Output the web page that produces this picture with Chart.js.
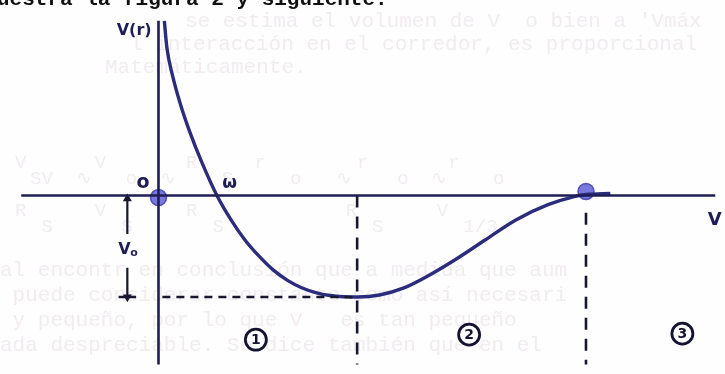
<!DOCTYPE html>
<html>
<head>
<meta charset="utf-8">
<script src="https://cdn.jsdelivr.net/npm/chart.js@4/dist/chart.umd.min.js"></script>
<style>
  html, body { margin: 0; padding: 0; background: #fefefe; }
  #wrap { width: 725px; height: 374px; position: relative; }
</style>
</head>
<body>
<div id="wrap"><canvas id="potChart"></canvas></div>
<script>
// potential curve V(r), r in arbitrary units, V in units of V0
const curveR = [0.06, 0.086, 0.145, 0.226, 0.325, 0.441, 0.60, 0.745, 0.89, 1.035, 1.18, 1.325, 1.47, 1.615, 1.76, 1.905, 2.05, 2.27, 2.52, 2.77, 3.05, 3.35, 3.67, 4.00, 4.27, 4.39, 4.64];
const curveV = [1.72, 1.458, 1.178, 0.897, 0.617, 0.336, 0.00, -0.24, -0.44, -0.60, -0.735, -0.835, -0.908, -0.956, -0.985, -0.997, -1.00, -0.98, -0.91, -0.79, -0.63, -0.44, -0.24, -0.09, -0.01, 0.01, 0.02];

const V0 = -1.0;       // depth of the well
const rMin = 2.04;     // position of the minimum
const rEdge = 4.39;    // where V(r) rejoins zero
const rArrow = -0.32;  // V0 arrow

const regionLabels = ['1', '2', '3'];
const regionR = [1.0, 3.19, 5.38];
const regionV = [-1.42, -1.37, -1.36];

const headerText = 'uestra la figura 2 y siguiente.';
const faintTop = [
  'se estima el volumen de V  o bien a \'Vmáx',
  'l interacción en el corredor, es proporcional',
  'Matemáticamente.'
];
const faintBottom = [
  'al encontr en conclusión que a medida que aum',
  ' puede considerar constante como así necesari',
  ' y pequeño, por lo que V   es tan pequeño',
  'ada despreciable. Se dice también que en el'
];

const ink = '#1e1e55';
const curveInk = '#2c2c7c';
const dashInk = '#17172f';

const pts = (xs, ys) => xs.map((x, i) => ({ x: x, y: ys[i] }));

// page text, under the drawing
const pagePlugin = {
  id: 'page',
  beforeDatasetsDraw(chart) {
    const ctx = chart.ctx;
    ctx.save();
    ctx.fillStyle = 'rgba(210,190,205,0.28)';
    ctx.font = '21px "Liberation Mono"';
    ctx.textBaseline = 'alphabetic';
    ctx.fillText(faintTop[0], 185, 27);
    ctx.fillText(faintTop[1], 130, 50);
    ctx.fillText(faintTop[2], 105, 73);
    faintBottom.forEach((t, i) => ctx.fillText(t, 0, 276 + i * 25));
    // faint formula row
    ctx.font = '19px "Liberation Mono"';
    ctx.fillText('V      V       R     r        r       r', 15, 168);
    ctx.fillText('SV  ∿   o  ∿    S     o   ∿    o  ∿    o', 30, 184);
    ctx.fillText('R      V       R             R       V', 15, 216);
    ctx.fillText(' S      S       S             S       1/3', 30, 232);
    ctx.fillStyle = '#111';
    ctx.font = 'bold 21px "Liberation Mono"';
    ctx.fillText(headerText, -3, 5);
    ctx.restore();
  }
};

// labels drawn at data positions
const labelPlugin = {
  id: 'labels',
  afterDatasetsDraw(chart) {
    const ctx = chart.ctx;
    const xs = chart.scales.x, ys = chart.scales.y;
    const px = r => xs.getPixelForValue(r);
    const py = v => ys.getPixelForValue(v);
    ctx.save();
    ctx.fillStyle = ink;
    ctx.textBaseline = 'middle';
    ctx.textAlign = 'center';
    ctx.font = 'bold 16px "DejaVu Sans"';
    ctx.fillText('V(r)', px(-0.25), py(1.62));
    ctx.font = 'bold 19px "DejaVu Sans"';
    ctx.fillText('o', px(-0.16), py(0.12));
    ctx.font = 'bold 17px "DejaVu Sans"';
    ctx.fillText('ω', px(0.73), py(0.12));
    ctx.font = 'bold 16px "DejaVu Sans"';
    ctx.fillText('V', px(-0.35), py(-0.53));
    ctx.font = 'bold 11px "DejaVu Sans"';
    ctx.fillText('o', px(-0.25), py(-0.57));
    ctx.font = 'bold 18px "DejaVu Sans"';
    ctx.textAlign = 'left';
    ctx.fillText('V', px(5.64), py(-0.24));
    // circled region numbers
    ctx.textAlign = 'center';
    ctx.strokeStyle = '#141430';
    ctx.fillStyle = '#141430';
    ctx.lineWidth = 2.8;
    ctx.font = 'bold 14px "DejaVu Sans"';
    regionLabels.forEach((t, i) => {
      const cx = px(regionR[i]), cy = py(regionV[i]);
      ctx.beginPath();
      ctx.arc(cx, cy, 10.5, 0, Math.PI * 2);
      ctx.stroke();
      ctx.fillText(t, cx, cy + 1);
    });
    ctx.restore();
  }
};

new Chart(document.getElementById('potChart'), {
  type: 'scatter',
  data: {
    datasets: [
      { // r axis
        data: pts([-1.41, 5.72], [0, 0]),
        showLine: true, borderColor: ink, borderWidth: 2.6, pointRadius: 0
      },
      { // V axis
        data: pts([0, 0], [1.72, -1.75]),
        showLine: true, borderColor: ink, borderWidth: 2.6, pointRadius: 0
      },
      { // minimum level
        data: pts([0.04, rMin], [V0, V0]),
        showLine: true, borderColor: dashInk, borderWidth: 2.6, borderDash: [8, 6], pointRadius: 0
      },
      { // boundary 1-2
        data: pts([rMin, rMin], [0, -1.75]),
        showLine: true, borderColor: dashInk, borderWidth: 2.6, borderDash: [12, 9], pointRadius: 0
      },
      { // boundary 2-3
        data: pts([rEdge, rEdge], [-0.17, -1.75]),
        showLine: true, borderColor: dashInk, borderWidth: 2.6, borderDash: [12, 9], pointRadius: 0
      },
      { // V0 arrow, upper half
        data: pts([rArrow, rArrow], [-0.03, -0.38]),
        showLine: true, borderColor: dashInk, borderWidth: 2.2,
        pointStyle: 'triangle', pointRadius: [3, 0], rotation: 0,
        pointBackgroundColor: dashInk, pointBorderColor: dashInk
      },
      { // V0 arrow, lower half
        data: pts([rArrow, rArrow], [-0.71, V0]),
        showLine: true, borderColor: dashInk, borderWidth: 2.2,
        pointStyle: 'triangle', pointRadius: [0, 3], rotation: 180,
        pointBackgroundColor: dashInk, pointBorderColor: dashInk
      },
      { // tick at V0
        data: pts([-0.41, -0.23], [V0, V0]),
        showLine: true, borderColor: dashInk, borderWidth: 2.6, pointRadius: 0
      },
      { // V(r)
        data: pts(curveR, curveV),
        showLine: true, borderColor: curveInk, borderWidth: 3.4,
        cubicInterpolationMode: 'monotone', pointRadius: 0
      },
      { // marked points
        data: pts([0, rEdge], [-0.02, 0.04]),
        showLine: false, pointRadius: 8, pointStyle: 'circle',
        pointBackgroundColor: 'rgba(96,96,215,0.85)', pointBorderColor: 'rgba(70,70,180,0.9)', pointBorderWidth: 1.5
      }
    ]
  },
  options: {
    responsive: true,
    maintainAspectRatio: false,
    animation: false,
    layout: { padding: 0 },
    plugins: { legend: { display: false }, tooltip: { enabled: false } },
    scales: {
      x: { type: 'linear', min: -1.53, max: 5.72, display: false },
      y: { type: 'linear', min: -1.664, max: 1.832, display: false }
    }
  },
  plugins: [pagePlugin, labelPlugin]
});
</script>
</body>
</html>
